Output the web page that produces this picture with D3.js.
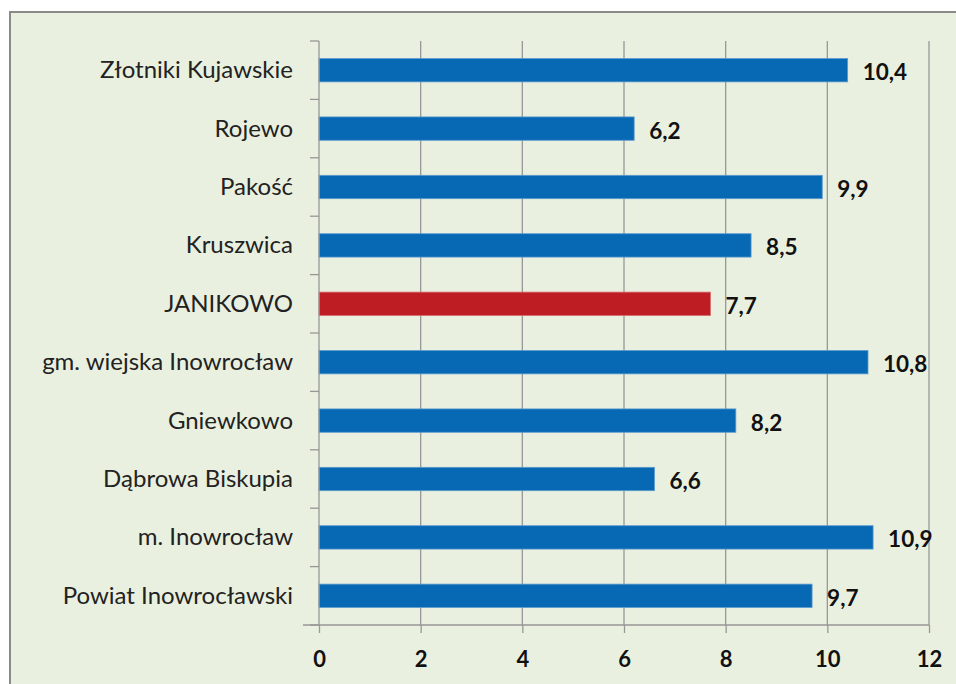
<!DOCTYPE html>
<html><head><meta charset="utf-8">
<script src="https://cdn.jsdelivr.net/npm/d3@7"></script>
<style>
html,body{margin:0;padding:0;background:#fff;}
svg{display:block;}
</style></head>
<body>
<svg id="chart" width="956" height="684"></svg>
<script>
const categories = ["Złotniki Kujawskie","Rojewo","Pakość","Kruszwica","JANIKOWO","gm. wiejska Inowrocław","Gniewkowo","Dąbrowa Biskupia","m. Inowrocław","Powiat Inowrocławski"];
const values = [10.4, 6.2, 9.9, 8.5, 7.7, 10.8, 8.2, 6.6, 10.9, 9.7];
const highlight = "JANIKOWO";
const xTicks = [0,2,4,6,8,10,12];

const svg = d3.select("#chart");
const W = 956, H = 684;
// panel
svg.append("rect").attr("x",10).attr("y",12).attr("width",W).attr("height",H)
  .attr("fill","#eaf0df").attr("stroke","#8a8a8a").attr("stroke-width",2);

const m = {left:319, right:27, top:41, bottom:59};
const x = d3.scaleLinear().domain([0,12]).range([m.left, W-m.right]);
const y = d3.scaleBand().domain(categories).range([m.top, H-m.bottom]).paddingInner(0.6).paddingOuter(0.3);
const font = "Lato, 'Open Sans', sans-serif";

// gridlines
svg.append("g").selectAll("line").data(xTicks.filter(t=>t>0)).join("line")
  .attr("x1",d=>x(d)).attr("x2",d=>x(d)).attr("y1",m.top).attr("y2",H-m.bottom)
  .attr("stroke","#979797").attr("stroke-width",1.3);

// bars
svg.append("g").selectAll("rect").data(categories).join("rect")
  .attr("x",x(0)).attr("y",d=>y(d)).attr("height",y.bandwidth())
  .attr("width",(d,i)=>x(values[i])-x(0))
  .attr("fill",d=>d===highlight?"#be1d24":"#0768b4")
  .attr("stroke",d=>d===highlight?"#d66a6e":"#5d9bd0").attr("stroke-width",0.8);

// value labels
svg.append("g").selectAll("text").data(categories).join("text")
  .attr("x",(d,i)=>x(values[i])+15).attr("y",d=>y(d)+y.bandwidth()/2+10)
  .attr("font-family",font).attr("font-weight","bold").attr("font-size",22.5).attr("fill","#111")
  .text((d,i)=>String(values[i]).replace(".",","));

// y axis
const yAxisG = svg.append("g");
yAxisG.append("line").attr("x1",x(0)).attr("x2",x(0)).attr("y1",m.top).attr("y2",H-m.bottom)
  .attr("stroke","#979797").attr("stroke-width",1.3);
const bounds = d3.range(categories.length+1).map(i=>m.top + (H-m.bottom-m.top)*i/categories.length);
yAxisG.selectAll("line.t").data(bounds).join("line").attr("class","t")
  .attr("x1",x(0)-9).attr("x2",x(0)).attr("y1",d=>d).attr("y2",d=>d)
  .attr("stroke","#979797").attr("stroke-width",1.3);
yAxisG.selectAll("text").data(categories).join("text")
  .attr("x",x(0)-26).attr("y",d=>y(d)+y.bandwidth()/2+8)
  .attr("text-anchor","end").attr("font-family",font).attr("font-size",24).attr("fill","#222")
  .text(d=>d);

// x axis
const xAxis = d3.axisBottom(x).tickValues(xTicks).tickSize(8).tickFormat(d3.format("d"));
const xg = svg.append("g").attr("transform",`translate(0,${H-m.bottom})`).call(xAxis);
xg.select(".domain").attr("stroke","#979797").attr("stroke-width",1.3).attr("d",`M${x(0)-16},0H${x(12)}`);
xg.selectAll(".tick line").attr("stroke","#979797").attr("stroke-width",1.3);
xg.selectAll(".tick text").attr("font-family",font).attr("font-weight","bold").attr("font-size",22)
  .attr("fill","#111").attr("y",41.7).attr("dy",0);
</script>
</body></html>
